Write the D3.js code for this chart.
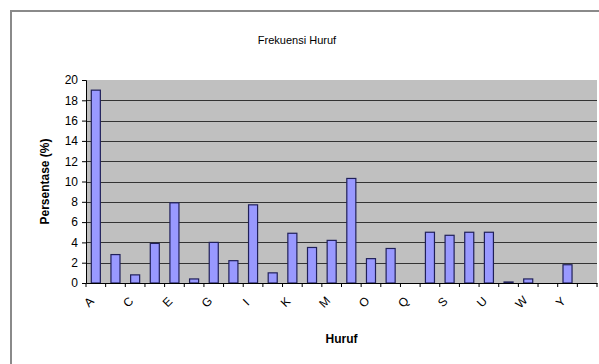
<!DOCTYPE html>
<html>
<head>
<meta charset="utf-8">
<script src="https://cdn.jsdelivr.net/npm/d3@7"></script>
<style>
  body { margin: 0; background: #fff; }
  text { font-family: "Liberation Sans", Arial, sans-serif; }
</style>
</head>
<body>
<div id="vis"></div>
<script>
var letters = ['A','B','C','D','E','F','G','H','I','J','K','L','M','N','O','P','Q','R','S','T','U','V','W','X','Y','Z'];
var percents = [19.0, 2.8, 0.8, 3.9, 7.9, 0.4, 4.0, 2.2, 7.7, 1.0, 4.9, 3.5, 4.2, 10.3, 2.4, 3.4, 0, 5.0, 4.7, 5.0, 5.0, 0.1, 0.4, 0, 1.8, 0];
var yTicks = [0, 2, 4, 6, 8, 10, 12, 14, 16, 18, 20];

var width  = 599;
var height = 364;
var margin = { top: 80, bottom: 81, left: 86, right: 2 };

var svg = d3.select('#vis')
  .append('svg')
  .attr('width', width)
  .attr('height', height);

// chart frame
svg.append('rect')
  .attr('x', 11).attr('y', 11)
  .attr('width', 620).attr('height', 380)
  .attr('fill', '#fff')
  .attr('stroke', '#8a8a8a')
  .attr('stroke-width', 2);

var xScale = d3.scaleBand()
  .domain(letters)
  .range([margin.left, width - margin.right])
  .paddingInner(0.54)
  .paddingOuter(0.27);

var yScale = d3.scaleLinear()
  .domain([0, 20])
  .range([height - margin.bottom, margin.top]);

// plot area
svg.append('rect')
  .attr('x', margin.left)
  .attr('y', margin.top)
  .attr('width', width - margin.right - margin.left)
  .attr('height', yScale(0) - yScale(20))
  .attr('fill', '#c0c0c0');

// gridlines
svg.append('g')
  .selectAll('line')
  .data(yTicks.filter(function(d){ return d > 0 && d < 20; }))
  .enter().append('line')
  .attr('x1', margin.left)
  .attr('x2', width - margin.right)
  .attr('y1', function(d){ return Math.round(yScale(d)) + 0.5; })
  .attr('y2', function(d){ return Math.round(yScale(d)) + 0.5; })
  .attr('stroke', '#333')
  .attr('stroke-width', 1);

// bars
svg.append('g')
  .selectAll('rect')
  .data(percents)
  .enter().append('rect')
  .attr('x', function(d, i){ return xScale(letters[i]); })
  .attr('y', function(d){ return yScale(d); })
  .attr('width', xScale.bandwidth())
  .attr('height', function(d){ return yScale(0) - yScale(d); })
  .attr('fill', '#9999ff')
  .attr('stroke', '#20205a')
  .attr('stroke-width', 1.2)
  .style('display', function(d){ return d > 0 ? null : 'none'; });

// y axis
var yAxis = d3.axisLeft(yScale).tickValues(yTicks).tickSize(4).tickPadding(4);
svg.append('g')
  .attr('class', 'y axis')
  .attr('transform', 'translate(' + margin.left + ',0)')
  .call(yAxis)
  .call(function(g){
    g.selectAll('text').style('font-size', '12px').attr('fill', '#000');
    g.selectAll('line, path').attr('stroke', '#000');
  });

// x axis
var xAxis = d3.axisBottom(xScale)
  .tickSize(0)
  .tickFormat(function(d, i){ return i % 2 === 0 ? d : ''; });
var xg = svg.append('g')
  .attr('class', 'x axis')
  .attr('transform', 'translate(0,' + yScale(0) + ')')
  .call(xAxis);
xg.select('.domain').attr('stroke', '#000');
xg.selectAll('text')
  .style('font-size', '12px')
  .attr('fill', '#000')
  .attr('text-anchor', 'middle')
  .attr('y', 0)
  .attr('dy', '0.35em')
  .attr('transform', 'translate(-7,19) rotate(-45)');

// category boundary ticks
var step = xScale.step();
xg.selectAll('.boundary')
  .data(letters.concat(['end']))
  .enter().append('line')
  .attr('class', 'boundary')
  .attr('x1', function(d, i){ return margin.left + i * step; })
  .attr('x2', function(d, i){ return margin.left + i * step; })
  .attr('y1', 0)
  .attr('y2', 4)
  .attr('stroke', '#000');

// title
svg.append('text')
  .attr('x', 297)
  .attr('y', 44)
  .attr('text-anchor', 'middle')
  .style('font-size', '11px')
  .text('Frekuensi Huruf');

// x axis label
svg.append('text')
  .attr('x', (margin.left + width - margin.right) / 2)
  .attr('y', 343)
  .attr('text-anchor', 'middle')
  .style('font-size', '12px')
  .style('font-weight', 'bold')
  .text('Huruf');

// y axis label
svg.append('text')
  .attr('transform', 'rotate(-90)')
  .attr('x', -(margin.top + yScale(0)) / 2)
  .attr('y', 49)
  .attr('text-anchor', 'middle')
  .style('font-size', '12px')
  .style('font-weight', 'bold')
  .text('Persentase (%)');
</script>
</body>
</html>
